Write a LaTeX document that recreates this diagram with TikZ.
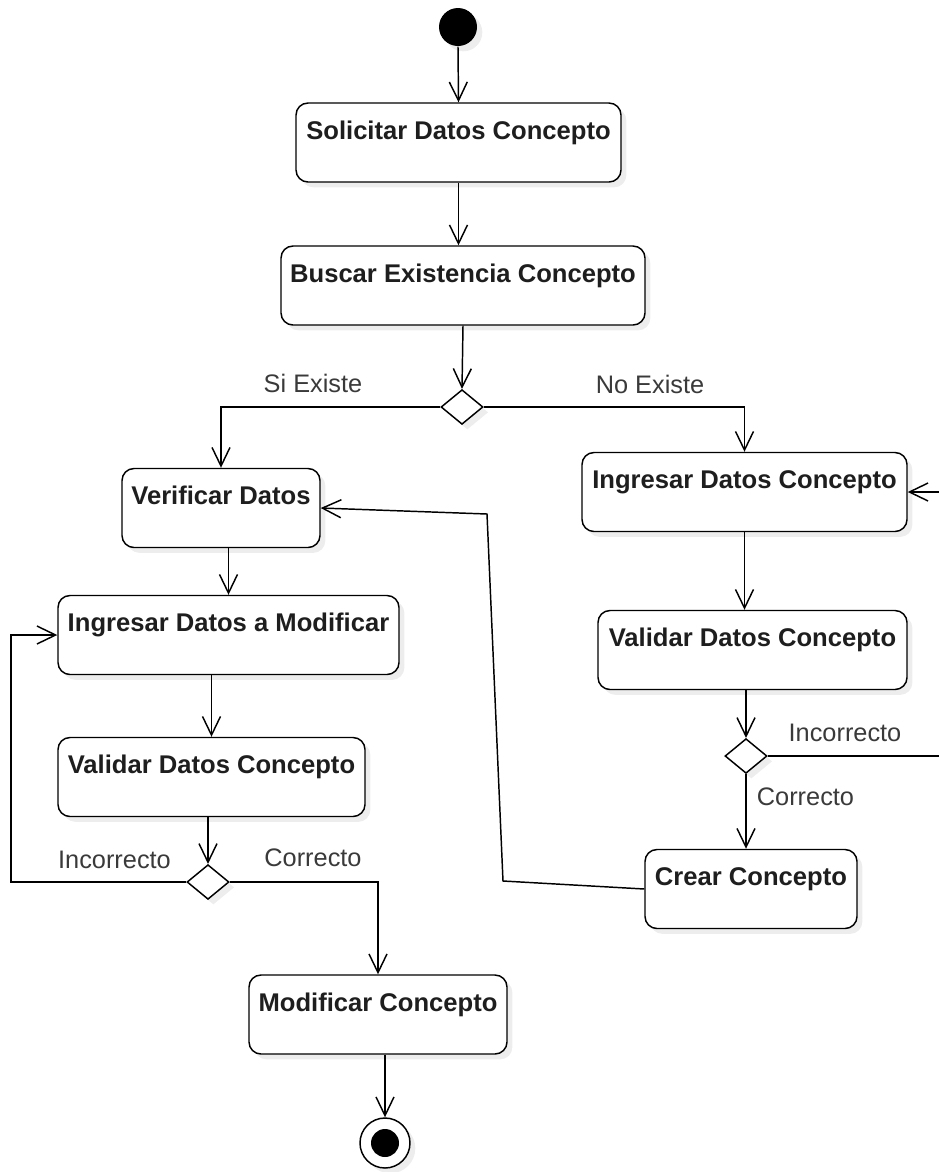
\documentclass[tikz,border=0pt]{standalone}
\usepackage{fontspec}
\setmainfont{Liberation Sans}
\usepackage{tikz}
\usetikzlibrary{shapes.geometric, arrows.meta, shadows}
\definecolor{texto}{HTML}{1E1E1E}
\definecolor{etiq}{HTML}{3A3A3A}

\begin{document}
\begin{tikzpicture}[x=0.75pt, y=-0.75pt, line width=1.1pt,
	sombra/.style={drop shadow={shadow xshift=4pt, shadow yshift=-4pt, fill=black!7, opacity=1}},
	actividad/.style={draw, fill=white, sombra, rounded corners=9pt, inner sep=0pt,
		minimum width=#1*0.75pt, text height=27pt, text depth=32.25pt,
		text=texto, font=\fontsize{19.2}{23}\selectfont\bfseries},
	decision/.style={draw, fill=white, sombra, diamond, inner sep=0pt, minimum width=31.5pt, minimum height=26pt},
	inicio/.style={circle, fill=black, sombra, inner sep=0pt, minimum size=28.5pt},
	final/.style={circle, draw, fill=white, sombra, inner sep=0pt, minimum size=37.5pt,
		path picture={\fill[black] (path picture bounding box.center) circle (10.5pt);}},
	etiqueta/.style={text=etiq, font=\fontsize{19}{23}\selectfont},
	flecha/.style={-{Straight Barb[length=14pt, width=13.5pt]}},]
\useasboundingbox (0,0) rectangle (939,1172);
\clip (0,0) rectangle (939,1172);

% nodos
\node[inicio] (ini) at (458,27) {};
\node[actividad=325] (solicitar) at (458.5,142.5) {Solicitar Datos Concepto};
\node[actividad=364] (buscar) at (463,285.5) {Buscar Existencia Concepto};
\node[decision] (existe) at (462,407) {};
\node[actividad=198] (verificar) at (221,508) {Verificar Datos};
\node[actividad=341] (ingmod) at (228.5,635) {Ingresar Datos a Modificar};
\node[actividad=307] (validarmod) at (211.5,777) {Validar Datos Concepto};
\node[decision] (correctomod) at (208,882) {};
\node[actividad=258] (modificar) at (378,1014.5) {Modificar Concepto};
\node[final] (fin) at (385,1143) {};
\node[actividad=325] (ingcon) at (744.5,492) {Ingresar Datos Concepto};
\node[actividad=309] (validarcon) at (752.5,650) {Validar Datos Concepto};
\node[decision] (correctocon) at (746,756) {};
\node[actividad=212] (crear) at (751,889) {Crear Concepto};

\node[etiqueta] (siexiste) at (313,383) {Si Existe};
\node[etiqueta] (noexiste) at (650,384) {No Existe};
\node[etiqueta] (incmod) at (114.5,860) {Incorrecto};
\node[etiqueta] (cormod) at (313,858) {Correcto};
\node[etiqueta] (inccon) at (845,733) {Incorrecto};
\node[etiqueta] (corcon) at (805.5,797) {Correcto};

\coordinate (vueltamod) at (11,882);
\coordinate (vueltacon) at (960,756);
\coordinate (crear1) at (503,881);
\coordinate (crear2) at (487,514);

% flujos
\draw[flecha] (ini.south) -- (solicitar.north);
\draw[flecha] (solicitar.south) -- (solicitar.south |- buscar.north);
\draw[flecha] (buscar.south) -- (existe.north);
\draw[flecha] (existe.west) -| (verificar.north);
\draw[flecha] (existe.east) -| (ingcon.north);
\draw[flecha] (ingmod.north |- verificar.south) -- (ingmod.north);
\draw[flecha] (validarmod.north |- ingmod.south) -- (validarmod.north);
\draw[flecha] (correctomod.north |- validarmod.south) -- (correctomod.north);
\draw[flecha] (correctomod.west) -- (vueltamod) |- (ingmod.west);
\draw[flecha] (correctomod.east) -| (modificar.north);
\draw[flecha] (fin.north |- modificar.south) -- (fin.north);
\draw[flecha] (ingcon.south) -- (ingcon.south |- validarcon.north);
\draw[flecha] (correctocon.north |- validarcon.south) -- (correctocon.north);
\draw[flecha] (correctocon.south) -- (correctocon.south |- crear.north);
\draw[flecha] (correctocon.east) -- (vueltacon) |- (ingcon.east);
\draw[flecha] (crear.west) -- (crear1) -- (crear2) -- (verificar.east);
\end{tikzpicture}
\end{document}
